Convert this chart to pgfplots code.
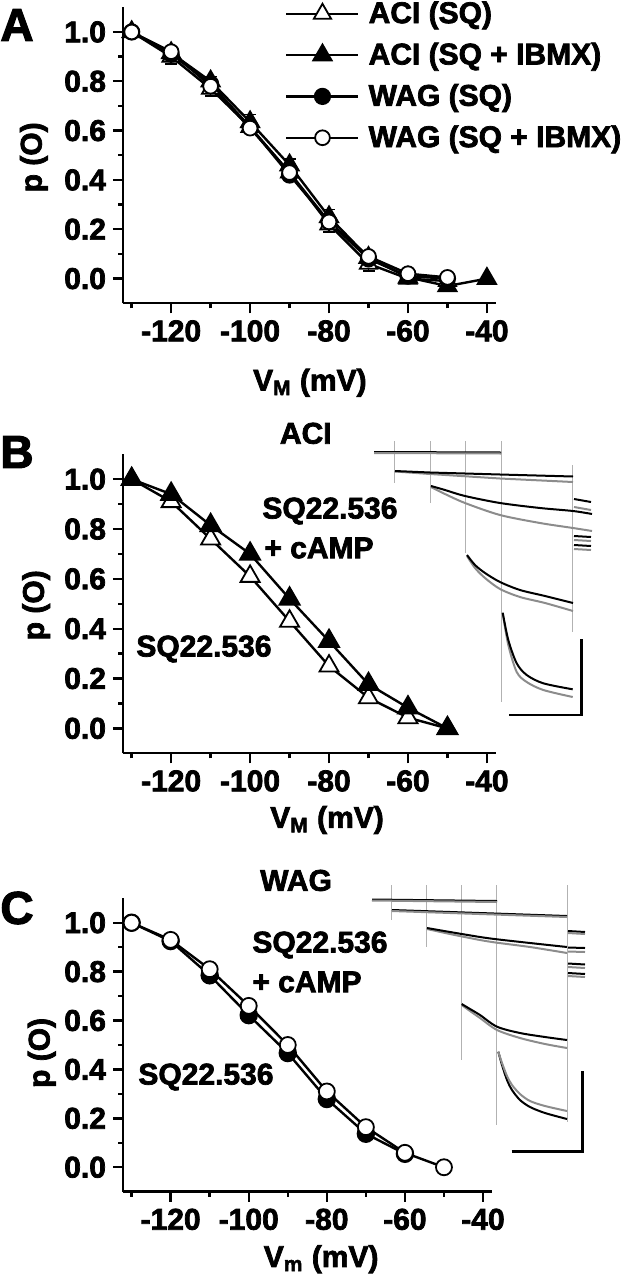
\documentclass[border=0pt]{standalone}
\usepackage{fontspec}
\setmainfont{Liberation Sans}[BoldFeatures={FakeBold=2.4}]
\usepackage{pgfplots}
\pgfplotsset{compat=1.18}

\newcommand{\F}{\fontsize{15bp}{17bp}\selectfont\bfseries}
\newcommand{\FT}{\fontsize{15bp}{17bp}\selectfont\bfseries}
\newcommand{\FL}{\fontsize{23bp}{26bp}\selectfont\bfseries}

\pgfplotsset{
  panel/.style={
    scale only axis, width=186.5bp,
    axis x line=bottom, axis y line=left,
    axis line style={-, line width=1.2bp},
    every outer x axis line/.append style={-},
    every outer y axis line/.append style={-},
    xmin=-132.2, xmax=-37.7, ymin=-0.1, ymax=1.1,
    xtick={-120,-100,-80,-60,-40},
    xticklabels={-120,-100,-80,-60,-40},
    minor xtick={-130,-110,-90,-70,-50},
    ytick={0,0.2,0.4,0.6,0.8,1.0},
    yticklabels={0.0,0.2,0.4,0.6,0.8,1.0},
    minor ytick={0.1,0.3,0.5,0.7,0.9},
    tick align=outside,
    major tick length=5bp, minor tick length=2.5bp,
    every tick/.style={line width=1.2bp, black},
    tick label style={font=\FT},
    label style={font=\F, inner sep=0pt},
    title style={font=\F, inner sep=0pt, anchor=center},
    clip=false,
  },
  dl/.style={black, line width=1.2bp},
  trk/.style={black, line width=1bp, no marks},
  trg/.style={black!45, line width=1bp, no marks},
  vl/.style={black!30, line width=0.5bp, no marks},
}

\begin{document}
\begin{tikzpicture}
\path[use as bounding box] (0,0) rectangle (313bp,640bp);

% ---------------- Panel A ----------------
\begin{axis}[panel, height=148bp, at={(61.5bp,488.35bp)}, anchor=south west,
  xlabel={V\textsubscript{M} (mV)},
  xlabel style={at={(axis description cs:0.501,-0.22)}, anchor=north},
  ylabel={p (O)},
  ylabel style={at={(axis description cs:-0.239,0.493)}, anchor=center},
  legend style={draw=none, fill=none, at={(axis description cs:0.434,1.028)},
    anchor=north west, inner sep=0pt, row sep=6.3bp, column sep=3.5bp, font=\F,
    nodes={inner sep=1bp}},
  legend cell align=left,
  legend image code/.code={%
    \draw[mark repeat=2,mark phase=2] plot coordinates {(0bp,0bp) (18bp,0bp) (36bp,0bp)};},
  error bars/y dir=both, error bars/y explicit,
  error bars/error mark options={rotate=90, mark size=3bp, line width=0.8bp},
  error bars/error bar style={line width=0.8bp},
]
\addplot[dl, mark=triangle*, mark size=5bp, mark options={fill=white, line width=0.9bp}] coordinates {
  (-130,1.0) +- (0,0)
  (-120,0.90) +- (0,0.03)
  (-110,0.77) +- (0,0.03)
  (-100,0.615) +- (0,0.02)
  (-90,0.43) +- (0,0.02)
  (-80,0.22) +- (0,0.03)
  (-70,0.06) +- (0,0.03)
  (-60,0.00) +- (0,0.02)
  (-50,-0.01) +- (0,0.02)
};
\addlegendentry{ACI (SQ)}
\addplot[dl, mark=triangle*, mark size=5bp, mark options={fill=black}] coordinates {
  (-130,1.0) +- (0,0)
  (-120,0.915) +- (0,0.02)
  (-110,0.80) +- (0,0.02)
  (-100,0.635) +- (0,0.03)
  (-90,0.46) +- (0,0.025)
  (-80,0.25) +- (0,0.03)
  (-70,0.085) +- (0,0.02)
  (-60,0.005) +- (0,0.02)
  (-50,-0.03) +- (0,0.02)
  (-40,0.0) +- (0,0)
};
\addlegendentry{ACI (SQ + IBMX)}
\addplot[dl, mark=*, mark size=3.7bp, mark options={fill=black}] coordinates {
  (-130,1.0) +- (0,0)
  (-120,0.91) +- (0,0.015)
  (-110,0.79) +- (0,0.015)
  (-100,0.615) +- (0,0.015)
  (-90,0.42) +- (0,0.015)
  (-80,0.23) +- (0,0.015)
  (-70,0.08) +- (0,0.015)
  (-60,0.01) +- (0,0.01)
  (-50,0.0) +- (0,0.01)
};
\addlegendentry{WAG (SQ)}
\addplot[dl, mark=*, mark size=3.7bp, mark options={fill=white, line width=0.9bp}] coordinates {
  (-130,1.0) +- (0,0)
  (-120,0.92) +- (0,0.015)
  (-110,0.78) +- (0,0.015)
  (-100,0.61) +- (0,0.015)
  (-90,0.43) +- (0,0.015)
  (-80,0.23) +- (0,0.015)
  (-70,0.09) +- (0,0.015)
  (-60,0.02) +- (0,0.01)
  (-50,0.005) +- (0,0.01)
};
\addlegendentry{WAG (SQ + IBMX)}
\end{axis}

% ---------------- Panel B ----------------
\begin{axis}[panel, height=149.5bp, at={(61.5bp,263.35bp)}, anchor=south west,
  title={ACI},
  title style={at={(axis description cs:0.49,1.03)}},
  xlabel={V\textsubscript{M} (mV)},
  xlabel style={at={(axis description cs:0.547,-0.175)}, anchor=north},
  ylabel={p (O)},
  ylabel style={at={(axis description cs:-0.233,0.495)}, anchor=center},
]
\addplot[dl, mark=triangle*, mark size=5.5bp, mark options={fill=white, line width=0.9bp}] coordinates {
  (-130,1.0) (-120,0.91) (-110,0.76) (-100,0.61) (-90,0.43) (-80,0.25) (-70,0.123) (-60,0.043) (-50,0.0)
};
\addplot[dl, mark=triangle*, mark size=5.5bp, mark options={fill=black}] coordinates {
  (-130,1.0) (-120,0.94) (-110,0.815) (-100,0.70) (-90,0.52) (-80,0.35) (-70,0.177) (-60,0.083) (-50,0.0)
};
\end{axis}

% ---------------- Panel C ----------------
\begin{axis}[panel, width=184.5bp, height=146.7bp, at={(61.5bp,44.15bp)}, anchor=south west,
  title={WAG},
  title style={at={(axis description cs:0.469,1.02)}},
  xlabel={V\textsubscript{m} (mV)},
  xlabel style={at={(axis description cs:0.537,-0.181)}, anchor=north},
  ylabel={p (O)},
  ylabel style={at={(axis description cs:-0.22,0.473)}, anchor=center},
]
\addplot[dl, mark=*, mark size=4bp, mark options={fill=black}] coordinates {
  (-130,1.0) (-120,0.925) (-110,0.785) (-100,0.622) (-90,0.467) (-80,0.279) (-70,0.137) (-60,0.055)
};
\addplot[dl, mark=*, mark size=4bp, mark options={fill=white, line width=0.9bp}] coordinates {
  (-130,1.0) (-120,0.93) (-110,0.81) (-100,0.66) (-90,0.50) (-80,0.31) (-70,0.164) (-60,0.059) (-50,0.0)
};
\end{axis}

% ---------------- Overlay (pixel coordinates): labels, traces, scale bars ----------------
\begin{axis}[at={(0bp,0bp)}, anchor=south west, scale only axis, width=313bp, height=640bp,
  xmin=0, xmax=626, ymin=0, ymax=1280, y dir=reverse, hide axis, clip=false]
\node[anchor=west, font=\FL, inner sep=0pt] at (axis cs:0,25) {A};
\node[anchor=west, font=\FL, inner sep=0pt] at (axis cs:0,452) {B};
\node[anchor=west, font=\FL, inner sep=0pt] at (axis cs:0,908) {C};

\node[anchor=west, font=\F, inner sep=0pt] at (axis cs:262,511) {SQ22.536};
\node[anchor=west, font=\F, inner sep=0pt] at (axis cs:264,548) {+ cAMP};
\node[anchor=west, font=\F, inner sep=0pt] at (axis cs:136,649) {SQ22.536};

\node[anchor=west, font=\F, inner sep=0pt] at (axis cs:252,945) {SQ22.536};
\node[anchor=west, font=\F, inner sep=0pt] at (axis cs:252,982) {+ cAMP};
\node[anchor=west, font=\F, inner sep=0pt] at (axis cs:138,1077) {SQ22.536};

% ---- B traces ----
\addplot[vl] coordinates {(394.3,441) (394.3,483)};
\addplot[vl] coordinates {(430,441) (430,503)};
\addplot[vl] coordinates {(465.7,441) (465.7,553)};
\addplot[vl] coordinates {(501,441) (501,702)};
\addplot[vl] coordinates {(572.7,465) (572.7,632)};

\addplot[trk] coordinates {(374,452) (501,452.5)};
\addplot[trg] coordinates {(374,453) (501,453.5)};
\addplot[trg] coordinates {(395,471.5) (430,474) (500,478.5) (573,482)};
\addplot[trk] coordinates {(395,471) (430,472.5) (500,474.5) (573,476.5)};
\addplot[trg, smooth] coordinates {(431,487) (445,494) (465,503) (500,515) (540,523) (573,528) (592,531)};
\addplot[trk, smooth] coordinates {(431,486) (445,490) (465,496) (500,503) (540,508) (573,511) (592,514)};
\addplot[trg, smooth] coordinates {(467,556) (475,568) (485,578) (500,589) (520,597) (545,603) (573,611)};
\addplot[trk, smooth] coordinates {(467,555) (475,565) (485,573) (500,582) (520,590) (545,596) (573,603)};
\addplot[trg, smooth] coordinates {(502.7,613) (508.3,645) (516.7,672) (526.7,682) (543.3,690) (572.7,697)};
\addplot[trk, smooth] coordinates {(502.7,612.7) (508.3,640) (516.7,663.3) (526.7,675) (543.3,683.3) (572.7,689.3)};
\addplot[trk] coordinates {(574,499) (591,502)};
\addplot[trg] coordinates {(574,507) (591,510)};
\addplot[trk] coordinates {(574,536) (591,537)};
\addplot[trg] coordinates {(574,540) (591,541)};
\addplot[trk] coordinates {(574,545) (591,546)};
\addplot[trg] coordinates {(574,549) (591,550)};
\addplot[black, line width=1.3bp, no marks] coordinates {(509,715) (581.7,715) (581.7,639)};

% ---- C traces ----
\addplot[vl] coordinates {(391.7,885) (391.7,920)};
\addplot[vl] coordinates {(426.7,885) (426.7,947)};
\addplot[vl] coordinates {(461.7,885) (461.7,1060)};
\addplot[vl] coordinates {(496.7,885) (496.7,1125)};
\addplot[vl] coordinates {(567.3,885) (567.3,1122)};

\addplot[trk] coordinates {(372,899.5) (497,901)};
\addplot[trg] coordinates {(372,900.5) (497,902)};
\addplot[trk] coordinates {(392,910) (567,916)};
\addplot[trg] coordinates {(392,911) (567,917)};
\addplot[trg, smooth] coordinates {(427,929) (450,934) (480,940) (497,942.7) (530,947) (567,953)};
\addplot[trk, smooth] coordinates {(427,928) (450,932) (480,937) (497,939.3) (530,943) (567,947)};
\addplot[trg, smooth] coordinates {(461.7,1005) (470,1011) (480,1018) (497,1030) (520,1038) (545,1044) (567,1048)};
\addplot[trk, smooth] coordinates {(461.7,1004) (470,1009) (480,1015) (497,1026.7) (520,1033) (545,1037) (567,1040)};
\addplot[trk, smooth] coordinates {(498.3,1051.7) (502,1065) (507,1080) (512,1090) (520,1100) (530,1107) (545,1113) (567,1119)};
\addplot[trg, smooth] coordinates {(498.3,1052) (502,1063) (507,1076) (512,1085) (520,1094) (530,1101) (545,1106) (567,1111)};
\addplot[trk] coordinates {(568,931) (585,932)};
\addplot[trg] coordinates {(568,933) (585,934)};
\addplot[trk] coordinates {(568,947.5) (585,948)};
\addplot[trg] coordinates {(568,951.5) (585,952)};
\addplot[trk] coordinates {(568,963.5) (585,964.5)};
\addplot[trg] coordinates {(568,967) (585,968)};
\addplot[trk] coordinates {(568,973) (585,974)};
\addplot[trg] coordinates {(568,976) (585,977)};
\addplot[black, line width=1.3bp, no marks] coordinates {(511.7,1151.7) (582.7,1151.7) (582.7,1070.7)};
\end{axis}
\end{tikzpicture}
\end{document}
